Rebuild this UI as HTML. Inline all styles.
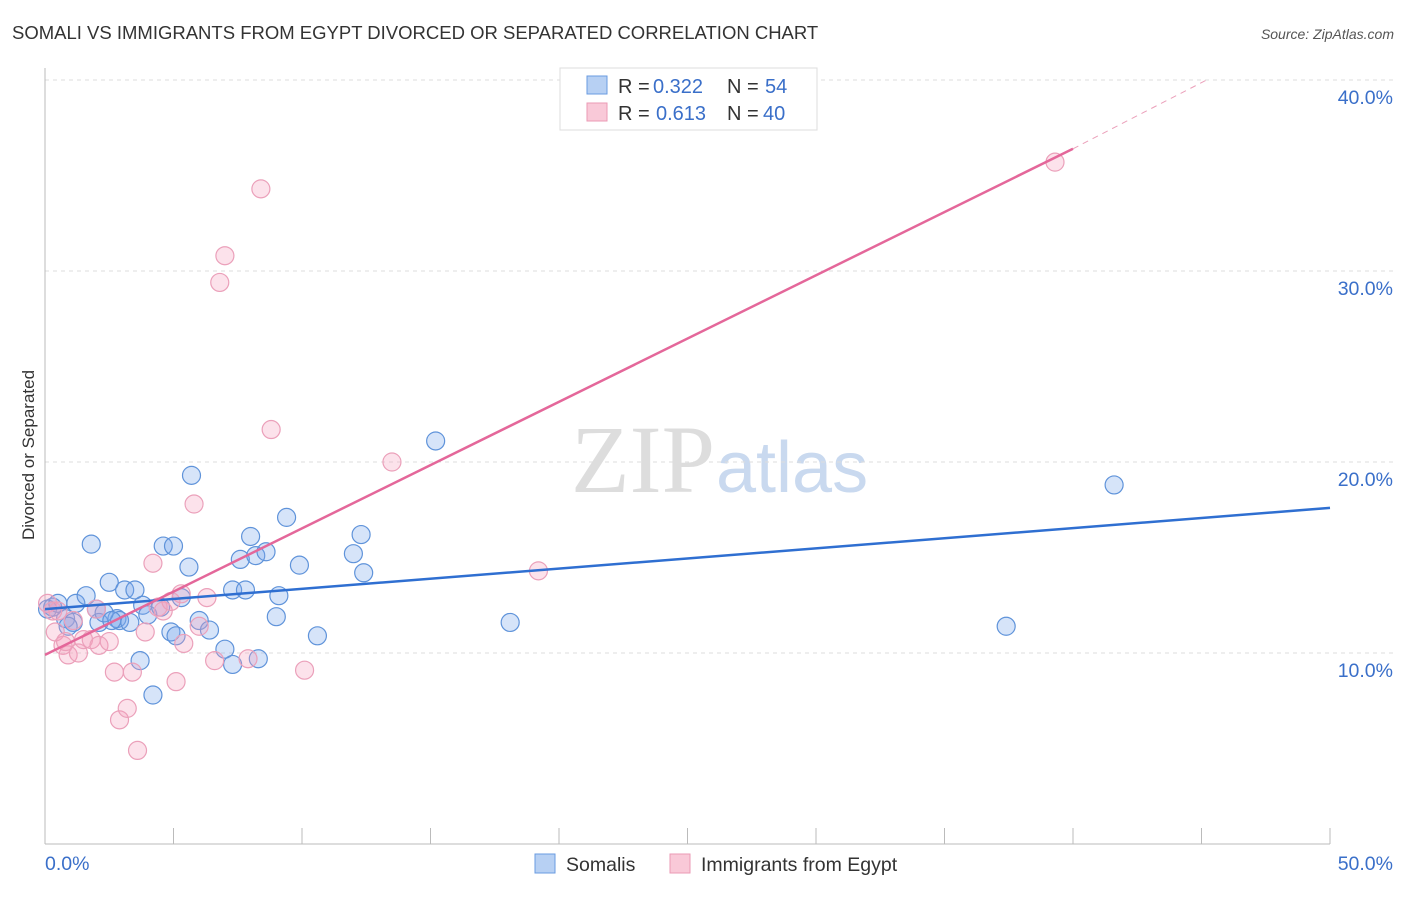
<!DOCTYPE html>
<html><head><meta charset="utf-8"><style>
body{margin:0;background:#fff;font-family:"Liberation Sans",sans-serif;}
</style></head><body>
<svg width="1406" height="892" font-family="Liberation Sans, sans-serif">
<text x="12" y="39" font-size="18.5" fill="#333">SOMALI VS IMMIGRANTS FROM EGYPT DIVORCED OR SEPARATED CORRELATION CHART</text>
<text x="1394" y="39" font-size="14" fill="#555" text-anchor="end" font-style="italic">Source: ZipAtlas.com</text>
<text x="715" y="492" font-size="96" fill="#ddd" text-anchor="end" font-family="Liberation Serif, serif">ZIP</text>
<text x="716" y="492" font-size="72" fill="#c9d9ef">atlas</text>
<g id="grid"></g>
<line x1="45" y1="68" x2="45" y2="844" stroke="#bbb"/>
<line x1="45" y1="844" x2="1330" y2="844" stroke="#bbb"/>
<text x="34" y="455" font-size="17" fill="#333" transform="rotate(-90 34 455)" text-anchor="middle">Divorced or Separated</text>
<text x="45" y="870" font-size="19.5" fill="#3a6fc9">0.0%</text>
<text x="1393" y="870" font-size="19.5" fill="#3a6fc9" text-anchor="end">50.0%</text>
<g id="pts"></g>
<g id="lines"></g>
<g>
<rect x="560" y="68" width="257" height="62" fill="#fff" stroke="#ddd"/>
<rect x="587" y="76" width="20" height="18" fill="#b7d0f3" stroke="#6a9be0"/>
<rect x="587" y="103" width="20" height="18" fill="#f9c9d8" stroke="#eb9ab5"/>
<text x="618" y="93" font-size="20" fill="#333">R =</text>
<text x="653" y="93" font-size="20" fill="#3a6fc9">0.322</text>
<text x="727" y="93" font-size="20" fill="#333">N =</text>
<text x="765" y="93" font-size="20" fill="#3a6fc9">54</text>
<text x="618" y="120" font-size="20" fill="#333">R =</text>
<text x="656" y="120" font-size="20" fill="#3a6fc9">0.613</text>
<text x="727" y="120" font-size="20" fill="#333">N =</text>
<text x="763" y="120" font-size="20" fill="#3a6fc9">40</text>
</g>
<g>
<rect x="535" y="854" width="20" height="19" fill="#b7d0f3" stroke="#6a9be0"/>
<text x="566" y="871" font-size="19.5" fill="#333">Somalis</text>
<rect x="670" y="854" width="20" height="19" fill="#f9c9d8" stroke="#eb9ab5"/>
<text x="701" y="871" font-size="19.5" fill="#333">Immigrants from Egypt</text>
</g>
</svg>
<script>
const yTicks=[10,20,30,40];
const xTicks=[0,5,10,15,20,25,30,35,40,45,50];
const somaliX=[0.1,0.3,0.5,0.8,1.1,1.2,1.6,1.8,2.0,2.1,2.5,2.8,2.9,3.1,3.3,3.5,3.7,3.8,4.0,4.2,4.6,4.9,5.0,5.1,5.3,5.6,5.7,6.0,6.4,7.0,7.3,7.3,7.6,7.8,8.0,8.2,8.3,8.6,9.0,9.1,9.4,9.9,10.6,12.0,12.3,12.4,15.2,18.1,37.4,41.6,0.9,2.3,4.5,2.6];
const somaliY=[12.3,12.4,12.6,11.8,11.6,12.6,13.0,15.7,12.3,11.6,13.7,11.8,11.7,13.3,11.6,13.3,9.6,12.5,12.0,7.8,15.6,11.1,15.6,10.9,12.9,14.5,19.3,11.7,11.2,10.2,9.4,13.3,14.9,13.3,16.1,15.1,9.7,15.3,11.9,13.0,17.1,14.6,10.9,15.2,16.2,14.2,21.1,11.6,11.4,18.8,11.4,12.1,12.4,11.7];
const egyptX=[0.1,0.3,0.4,0.7,0.9,1.1,1.3,1.5,1.8,2.1,2.5,2.7,2.9,3.2,3.4,3.6,3.9,4.2,4.4,4.6,5.1,5.3,5.4,5.8,6.0,6.3,6.6,6.8,7.0,7.9,8.4,8.8,10.1,13.5,19.2,39.3,2.0,0.5,0.8,4.9];
const egyptY=[12.6,12.2,11.1,10.4,9.9,11.7,10.0,10.7,10.7,10.4,10.6,9.0,6.5,7.1,9.0,4.9,11.1,14.7,12.4,12.2,8.5,13.1,10.5,17.8,11.4,12.9,9.6,29.4,30.8,9.7,34.3,21.7,9.1,20.0,14.3,35.7,12.3,12.2,10.6,12.7];
const blueLine=[[0,12.3],[50,17.6]];
const pinkLine=[[0,9.9],[40,36.4]];
const pinkDash=[[40,36.4],[45.2,40]];
const X=v=>45+v*(1285/50), Y=v=>844-v*19.1;
const NS="http://www.w3.org/2000/svg";
function mk(t,a,p){const e=document.createElementNS(NS,t);for(const k in a)e.setAttribute(k,a[k]);p.appendChild(e);return e;}
const grid=document.getElementById('grid');
yTicks.forEach(t=>{
 const l=mk('line',{x1:45,x2:1393,y1:Y(t),y2:Y(t),stroke:'#ddd','stroke-dasharray':'4,4'},grid);
 
 
 const tx=mk('text',{x:1393,y:Y(t)+24,'font-size':19.5,fill:'#3a6fc9','text-anchor':'end'},grid);
 tx.textContent=t.toFixed(1)+'%';
 
 
});
xTicks.forEach(t=>{
 const l=mk('line',{x1:X(t),x2:X(t),y1:828,y2:844,stroke:'#bbb'},grid);
 
 
});
const pts=document.getElementById('pts');
somaliX.forEach((x,i)=>{
 const c=mk('circle',{cx:X(x),cy:Y(somaliY[i]),r:9,fill:'rgba(120,165,235,0.3)',stroke:'#5f93da','stroke-width':1.2},pts);
 
 
});
egyptX.forEach((x,i)=>{
 const c=mk('circle',{cx:X(x),cy:Y(egyptY[i]),r:9,fill:'rgba(245,160,190,0.3)',stroke:'#eba0ba','stroke-width':1.2},pts);
 
 
});
const lg=document.getElementById('lines');
let l=mk('line',{x1:X(blueLine[0][0]),y1:Y(blueLine[0][1]),x2:X(blueLine[1][0]),y2:Y(blueLine[1][1]),stroke:'#2f6fd1','stroke-width':2.5},lg);


l=mk('line',{x1:X(pinkLine[0][0]),y1:Y(pinkLine[0][1]),x2:X(pinkLine[1][0]),y2:Y(pinkLine[1][1]),stroke:'#e4679a','stroke-width':2.5},lg);


l=mk('line',{x1:X(pinkDash[0][0]),y1:Y(pinkDash[0][1]),x2:X(pinkDash[1][0]),y2:Y(pinkDash[1][1]),stroke:'#eba0ba','stroke-width':1,'stroke-dasharray':'6,5'},lg);


</script>
</body></html>
